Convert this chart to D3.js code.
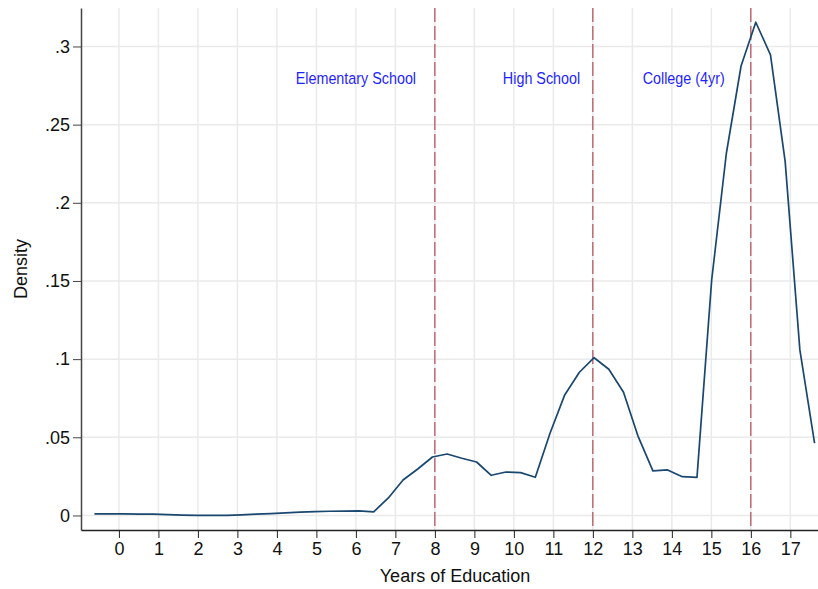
<!DOCTYPE html>
<html>
<head>
<meta charset="utf-8">
<script src="https://cdn.jsdelivr.net/npm/d3@7"></script>
<style>
  body { margin: 0; background: #fff; }
  svg { display: block; }
  text { font-family: 'Liberation Sans', Arial, sans-serif; }
</style>
</head>
<body>
<svg id="chart" width="818" height="589"></svg>
<script>
// kernel density estimate of years of education (50 evaluation points)
const years = [
  -0.62, -0.248, 0.124, 0.496, 0.868, 1.241, 1.613, 1.985, 2.357, 2.729,
  3.101, 3.473, 3.845, 4.217, 4.589, 4.962, 5.334, 5.706, 6.078, 6.450,
  6.822, 7.194, 7.566, 7.938, 8.310, 8.683, 9.055, 9.427, 9.799, 10.171,
  10.543, 10.915, 11.287, 11.659, 12.031, 12.404, 12.776, 13.148, 13.520, 13.892,
  14.264, 14.636, 15.008, 15.380, 15.752, 16.125, 16.497, 16.869, 17.241, 17.613
];
const density = [
  0.0010, 0.0010, 0.0010, 0.0009, 0.0008, 0.0005, 0.0002, 0.0001, 0.0001, 0.0001,
  0.0004, 0.0008, 0.0012, 0.0017, 0.0021, 0.0025, 0.0027, 0.0028, 0.0029, 0.0023,
  0.0112, 0.0227, 0.0297, 0.0374, 0.0393, 0.0366, 0.0342, 0.0257, 0.0278, 0.0274,
  0.0244, 0.0526, 0.0771, 0.0916, 0.1009, 0.0935, 0.0788, 0.0504, 0.0285, 0.0291,
  0.0248, 0.0244, 0.1506, 0.2317, 0.2875, 0.3155, 0.2946, 0.2263, 0.1059, 0.0462
];

const xTicks = d3.range(0, 18);
const yTicks = [0, 0.05, 0.1, 0.15, 0.2, 0.25, 0.3];
const cutoffs = [8, 12, 16];
const schoolLabels = ['Elementary School', 'High School', 'College (4yr)'];
const labelX = [6, 10.7, 14.3];
const labelY = 0.28;

const svg = d3.select('#chart');

const x = d3.scaleLinear().domain([-0.96, 17.7]).range([81, 818]);
const y = d3.scaleLinear().domain([-0.0093, 0.3246]).range([530, 8]);

// grid
svg.append('g')
    .selectAll('line')
    .data(xTicks)
    .enter().append('line')
    .attr('x1', d => x(d)).attr('x2', d => x(d))
    .attr('y1', 8).attr('y2', 530)
    .attr('stroke', '#eaeaea')
    .attr('stroke-width', 1.5);

svg.append('g')
    .selectAll('line')
    .data(yTicks)
    .enter().append('line')
    .attr('x1', 81).attr('x2', 818)
    .attr('y1', d => y(d)).attr('y2', d => y(d))
    .attr('stroke', '#eaeaea')
    .attr('stroke-width', 1.5);

// cutoff lines
svg.append('g')
    .selectAll('line')
    .data(cutoffs)
    .enter().append('line')
    .attr('x1', d => x(d)).attr('x2', d => x(d))
    .attr('y1', 8).attr('y2', 530)
    .attr('stroke', '#a82838')
    .attr('stroke-width', 1)
    .attr('stroke-dasharray', '14,4');

// density line
const line = d3.line()
    .x((d, i) => x(years[i]))
    .y(d => y(d));

svg.append('path')
    .datum(density)
    .attr('d', line)
    .attr('fill', 'none')
    .attr('stroke', '#1a476f')
    .attr('stroke-width', 1.7)
    .attr('stroke-linejoin', 'round');

// school labels (narrowed a little to look like the original font)
svg.append('g')
    .selectAll('text')
    .data(schoolLabels)
    .enter().append('text')
    .attr('transform', (d, i) => 'translate(' + x(labelX[i]) + ',' + (y(labelY) + 6.5) + ') scale(0.88,1)')
    .attr('text-anchor', 'middle')
    .attr('fill', '#1f1fff')
    .style('font-size', '16.3px')
    .text(d => d);

// axes
const fmt = d => d === 0 ? '0' : d3.format('.2~f')(d).replace(/^0/, '');

const yAxis = svg.append('g')
    .attr('transform', 'translate(81,0)')
    .call(d3.axisLeft(y).tickValues(yTicks).tickFormat(fmt).tickSize(8).tickSizeOuter(0).tickPadding(3));
yAxis.select('.domain').attr('stroke', '#444').attr('stroke-width', 1.5);
yAxis.selectAll('.tick line').attr('stroke', '#444');
yAxis.selectAll('.tick text').style('font-size', '18px').attr('fill', '#111');

const xAxis = svg.append('g')
    .attr('transform', 'translate(0,530)')
    .call(d3.axisBottom(x).tickValues(xTicks).tickFormat(d3.format('d')).tickSize(8).tickSizeOuter(0).tickPadding(4));
xAxis.select('.domain').attr('stroke', '#222').attr('stroke-width', 1.5);
xAxis.selectAll('.tick line').attr('stroke', '#222');
xAxis.selectAll('.tick text').style('font-size', '18px').attr('fill', '#111');

// axis titles
svg.append('text')
    .attr('x', 455)
    .attr('y', 582)
    .attr('text-anchor', 'middle')
    .style('font-size', '18px')
    .attr('fill', '#111')
    .text('Years of Education');

svg.append('text')
    .attr('transform', 'translate(27,269) rotate(-90)')
    .attr('text-anchor', 'middle')
    .style('font-size', '18px')
    .attr('fill', '#111')
    .text('Density');
</script>
</body>
</html>
